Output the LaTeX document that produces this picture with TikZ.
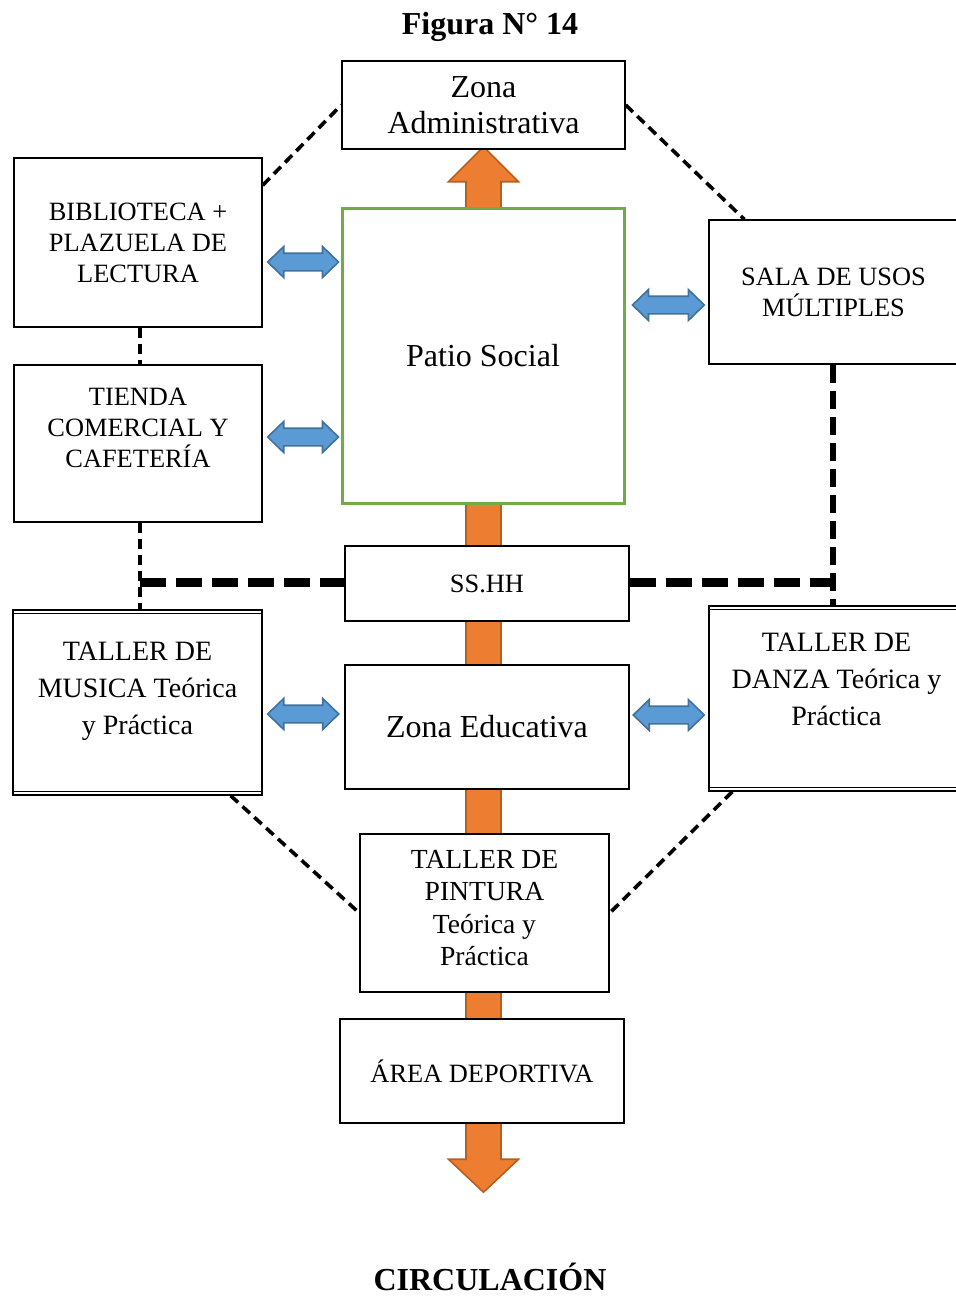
\documentclass[tikz,border=0pt]{standalone}
\usepackage{fontspec}
\setmainfont{Liberation Serif}
\usetikzlibrary{calc}
\usetikzlibrary{positioning}
\usetikzlibrary{backgrounds}
\definecolor{flujo}{HTML}{ED7D31}
\definecolor{flujoborde}{HTML}{B5601F}
\definecolor{enlace}{HTML}{5B9BD5}
\definecolor{enlaceborde}{HTML}{41719C}
\definecolor{verdepatio}{HTML}{70AD47}
\tikzstyle{zona} = [draw, fill=white, line width=0.7pt, align=center, inner sep=2pt]
\tikzstyle{zonafuerte} = [zona, line width=1.25pt]
\tikzstyle{rotulo} = [align=center, inner sep=0pt]
\tikzstyle{fino} = [line width=1.8pt, dash pattern=on 5pt off 3pt]
\tikzstyle{grueso} = [line width=4.5pt, dash pattern=on 13pt off 5pt]
\tikzstyle{medio} = [line width=3pt, dash pattern=on 9pt off 4pt]
\tikzstyle{dobleflecha} = [fill=enlace, draw=enlaceborde, line width=0.8pt]
\tikzstyle{flecha} = [fill=flujo, draw=flujoborde, line width=0.8pt]
\newcommand\txtgrande{\fontsize{16}{18}\selectfont}
\newcommand\txtmay{\fontsize{13.2}{15.5}\selectfont}
\newcommand\txtmed{\fontsize{14}{18.5}\selectfont}
\newcommand\txtpint{\fontsize{13.8}{16.2}\selectfont}
% flecha doble horizontal entre dos puntos
\newcommand\enlazar[2]{
  \path[dobleflecha] let \p1=(#1), \p2=(#2) in
    (\x1,\y1) -- (\x1+8pt,\y1+7.75pt) -- (\x1+8pt,\y1+4.4pt) -- (\x2-8pt,\y1+4.4pt)
    -- (\x2-8pt,\y1+7.75pt) -- (\x2,\y1) -- (\x2-8pt,\y1-7.75pt) -- (\x2-8pt,\y1-4.4pt)
    -- (\x1+8pt,\y1-4.4pt) -- (\x1+8pt,\y1-7.75pt) -- cycle;
}
% flecha vertical de circulacion
\newcommand\circular[2]{
  \path[flecha] let \p1=(#1), \p2=(#2) in
    (\x1,\y1) -- (\x1+17.5pt,\y1-17.5pt) -- (\x1+8.75pt,\y1-17.5pt) -- (\x1+8.75pt,\y2+16.5pt)
    -- (\x1+17.5pt,\y2+16.5pt) -- (\x1,\y2) -- (\x1-17.5pt,\y2+16.5pt) -- (\x1-8.75pt,\y2+16.5pt)
    -- (\x1-8.75pt,\y1-17.5pt) -- (\x1-17.5pt,\y1-17.5pt) -- cycle;
}

\begin{document}
\begin{tikzpicture}[x=0.5pt, y=-0.5pt]
\useasboundingbox (0,0) rectangle (955,1297);

\node[rotulo, font=\bfseries\txtgrande] (titulo) at (490,27) {Figura N° 14};

\node[zona, minimum width=141.5pt, minimum height=44pt, font=\txtgrande] (adm) at (483.5,105) {Zona\\Administrativa};
\node[zona, minimum width=124pt, minimum height=84.5pt, font=\txtmay] (bib) at (138,242.5) {BIBLIOTECA +\\PLAZUELA DE\\LECTURA};
\node[zona, minimum width=124pt, minimum height=78.5pt] (tienda) at (138,443.5) {};
\node[rotulo, font=\txtmay] (tiendatxt) at ($(tienda)+(0,-16)$) {TIENDA\\COMERCIAL Y\\CAFETERÍA};
\node[zona, draw=verdepatio, line width=1.5pt, minimum width=141pt, minimum height=147.5pt, font=\txtgrande] (patio) at (483,355.5) {Patio Social};
\node[zona, minimum width=124.5pt, minimum height=72pt, font=\txtmay] (sala) at (833.5,292) {SALA DE USOS\\MÚLTIPLES};
\node[zona, minimum width=142pt, minimum height=37.5pt, font=\txtmay] (sshh) at (487,583.5) {SS.HH};
\node[zonafuerte, minimum width=142pt, minimum height=62pt, font=\txtgrande] (edu) at (487,727) {Zona Educativa};

\node[zona, minimum width=124.5pt, minimum height=92.5pt] (musica) at (137.5,702.5) {};
\node[rotulo, font=\txtmed] (musicatxt) at ($(musica)+(0,-11)$) {TALLER DE\\MUSICA Teórica\\y Práctica};
\draw[line width=0.5pt] ([yshift=-2pt]musica.north west) -- ([yshift=-2pt]musica.north east);
\draw[line width=0.5pt] ([yshift=2pt]musica.south west) -- ([yshift=2pt]musica.south east);

\node[zona, minimum width=124.5pt, minimum height=92.5pt] (danza) at (833.5,698.5) {};
\node[rotulo, font=\txtmed] (danzatxt) at ($(danza)+(3,-19)$) {TALLER DE\\DANZA Teórica y\\Práctica};
\draw[line width=0.5pt] ([yshift=-2pt]danza.north west) -- ([yshift=-2pt]danza.north east);
\draw[line width=0.5pt] ([yshift=2pt]danza.south west) -- ([yshift=2pt]danza.south east);

\node[zona, minimum width=124.5pt, minimum height=79pt] (pintura) at (484.5,913) {};
\node[rotulo, font=\txtpint] (pinturatxt) at ($(pintura)+(0,-5)$) {TALLER DE\\PINTURA\\Teórica y\\Práctica};
\node[zonafuerte, minimum width=142pt, minimum height=52pt, font=\txtmay] (dep) at (482,1071) {ÁREA DEPORTIVA};

\node[rotulo, font=\bfseries\txtgrande] (circ) at (490,1277) {CIRCULACIÓN};

% circulacion principal
\begin{pgfonlayer}{background}
\coordinate (fin) at ($(dep.south)+(0,68)$);
\circular{$(adm.south)+(0,-3)$}{fin}
\end{pgfonlayer}

% relaciones directas
\enlazar{$(bib.east)+(5,19.5)$}{$(patio.west)+(-2,0)$}
\enlazar{$(tienda.east)+(5,-6.5)$}{$(patio.west)+(-2,0)$}
\enlazar{$(patio.east)+(7,-50.5)$}{$(sala.west)+(-4,0)$}
\enlazar{$(musica.east)+(5,11.5)$}{$(edu.west)+(-5,0)$}
\enlazar{$(edu.east)+(3,-12)$}{$(danza.west)+(-4,0)$}

% relaciones indirectas
\draw[fino] ($(bib.north east)+(0,28)$) -- (adm.west);
\draw[fino] (adm.east) -- ($(sala.north west)+(36,0)$);
\draw[fino] ($(bib.south)+(2,0)$) -- ($(tienda.north)+(2,0)$);
\coordinate (izq) at ($(tienda.south)+(2,60)$);
\coordinate (der) at ($(sala.south)+(-1,218)$);
\draw[fino] ($(tienda.south)+(2,0)$) -- (izq) -- ($(musica.north)+(2.5,0)$);
\draw[grueso] (izq) -- (izq -| sshh.west);
\draw[grueso] (sshh.east |- der) -- (der);
\draw[medio] ($(sala.south)+(-1,0)$) -- (der) -- ($(danza.north)+(-1,0)$);
\draw[fino] ($(musica.south east)+(-32,0)$) -- (pintura.west);
\draw[fino] ($(danza.south west)+(24,0)$) -- (pintura.east);
\end{tikzpicture}
\end{document}
